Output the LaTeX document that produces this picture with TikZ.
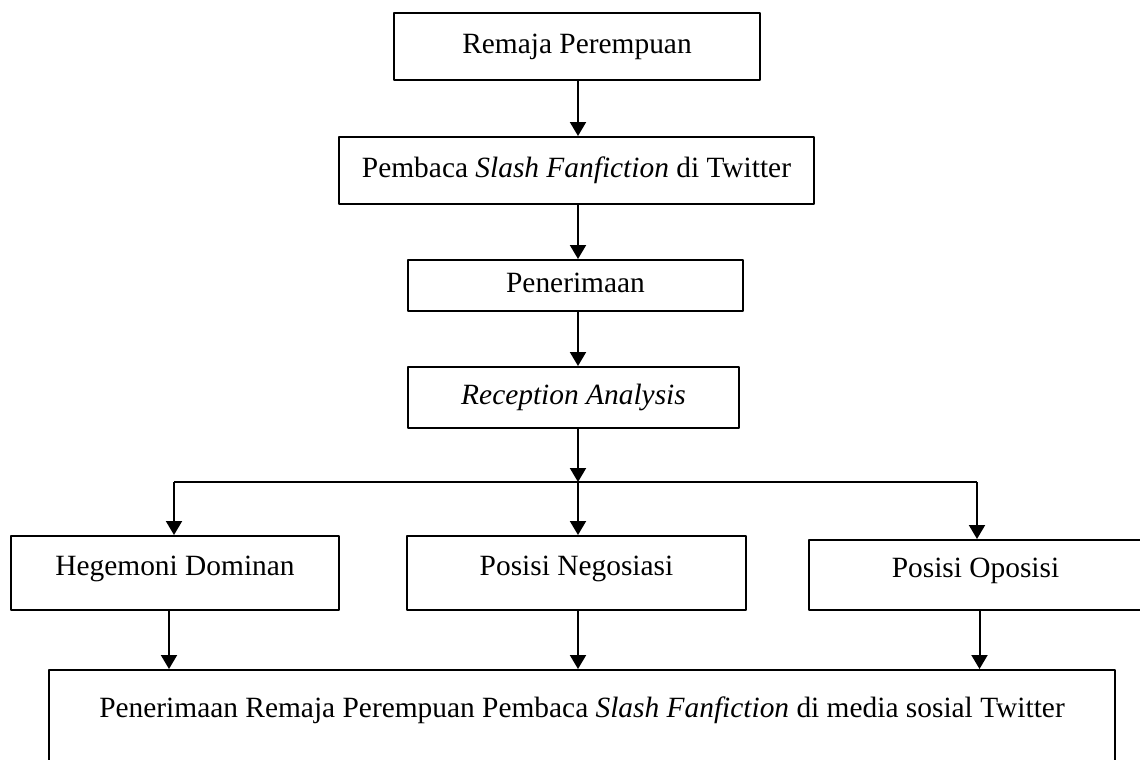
\documentclass[tikz,border=0pt]{standalone}
\usepackage{fontspec}
\setmainfont{Liberation Serif}
\usetikzlibrary{arrows.meta}
\begin{document}
\begin{tikzpicture}[x=0.5pt, y=-0.5pt, line join=round,
    box/.style={draw, rectangle, line width=1pt, inner sep=0pt, text height=10pt, text depth=3pt, font=\fontsize{14.7}{17}\selectfont},
    upper/.style={text height=10pt, text depth=7.5pt},
    arr/.style={line width=1pt, -{Triangle[width=8pt,length=7pt]}}]
      \useasboundingbox (0,0) rectangle (1140,760);

      \coordinate (spine) at (578,0);
      \coordinate (forkl) at (174,482);
      \coordinate (forkm) at (578,482);
      \coordinate (forkr) at (977,482);

      \node[box, minimum width=183pt, minimum height=33.5pt] (remaja) at (577,46.5) {Remaja Perempuan};
      \node[box, minimum width=237.5pt, minimum height=33.5pt] (pembaca) at (576.5,170.5) {Pembaca \textit{Slash Fanfiction} di Twitter};
      \node[box, minimum width=167.5pt, minimum height=25.5pt] (terima) at (575.5,285.5) {Penerimaan};
      \node[box, minimum width=165.5pt, minimum height=30.5pt] (analisis) at (573.5,397.5) {\textit{Reception Analysis}};

      \node[box, upper, minimum width=164pt, minimum height=37pt] (dominan) at (175,573) {Hegemoni Dominan};
      \node[box, upper, minimum width=169.5pt, minimum height=37pt] (negosiasi) at (576.5,573) {Posisi Negosiasi};
      \node[box, upper, minimum width=166.5pt, minimum height=35pt] (oposisi) at (975.5,575) {Posisi Oposisi};

      \node[box, minimum width=533pt, minimum height=65pt, text depth=28pt] (hasil) at (582,735) {Penerimaan Remaja Perempuan Pembaca \textit{Slash Fanfiction} di media sosial Twitter};

      \draw[arr] (remaja.south -| spine) -- (pembaca.north -| spine);
      \draw[arr] (pembaca.south -| spine) -- (terima.north -| spine);
      \draw[arr] (terima.south -| spine) -- (analisis.north -| spine);
      \draw[arr] (analisis.south -| spine) -- (forkm);

      \draw[line width=1pt] (forkl) -- (forkr);
      \draw[arr] (forkl) -- (forkl |- dominan.north);
      \draw[arr] (forkm) -- (forkm |- negosiasi.north);
      \draw[arr] (forkr) -- (forkr |- oposisi.north);

      \draw[arr] ([xshift=-3pt]dominan.south) -- ([xshift=-3pt]dominan.south |- hasil.north);
      \draw[arr] (negosiasi.south -| spine) -- (hasil.north -| spine);
      \draw[arr] ([xshift=2pt]oposisi.south) -- ([xshift=2pt]oposisi.south |- hasil.north);
    \end{tikzpicture}
\end{document}
